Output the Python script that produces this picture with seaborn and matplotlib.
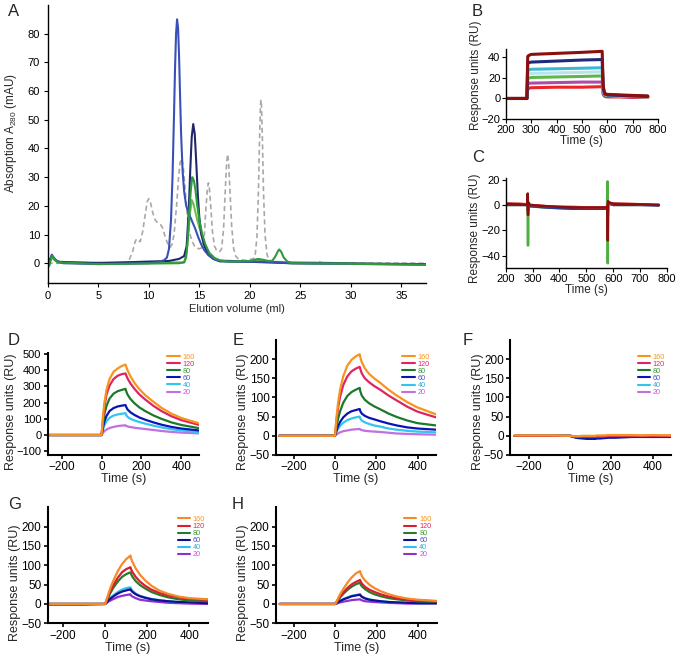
import seaborn as sns
import matplotlib.pyplot as plt
from matplotlib.lines import Line2D
import pandas as pd

# ---------------- panel A: gel filtration (ml, mAU) ----------------
std_ml = [0, 7.8, 8.1, 8.4, 8.65, 8.8, 8.95, 9.15, 9.4, 9.65, 9.85, 10.0, 10.15, 10.4, 10.65,
          10.9, 11.15, 11.35, 11.6, 11.85, 12.1, 12.3, 12.5, 12.75, 12.95, 13.1, 13.25, 13.4,
          13.6, 13.8, 14.0, 14.3, 14.6, 15.0, 15.3, 15.5, 15.65, 15.8, 15.9, 16.0, 16.15, 16.3,
          16.5, 16.7, 16.9, 17.05, 17.2, 17.4, 17.55, 17.7, 17.8, 17.9, 18.05, 18.2, 18.4, 18.6,
          18.85, 19.5, 20.3, 20.5, 20.7, 20.85, 20.95, 21.05, 21.1, 21.15, 21.25, 21.35, 21.5,
          21.7, 21.9, 22.3, 24.0, 26.4, 26.8, 27.2, 37.4]
std_mau = [0, 0, 1.5, 4, 7.5, 8.5, 8, 7.5, 11, 17, 21.5, 22.5, 21.5, 17.5, 15,
           14, 13.5, 12.5, 9.5, 7, 5.5, 6.5, 10, 20, 30, 35, 36.5, 34,
           26, 17, 11, 7.5, 5.5, 5, 5.5, 10, 19, 26, 28, 26, 19, 11,
           6, 4.5, 4, 4.2, 5, 12, 24, 35, 38, 35, 24, 13, 5, 2.5,
           1.5, 1, 1.5, 2, 9, 25, 42, 55, 57, 55, 42, 25, 10,
           3, 1, 0.5, 0, 0.2, 0.6, 0.1, 0]

blue_ml = [0, 0.15, 0.4, 0.8, 1.5, 5, 10, 11.0, 11.5, 11.8, 12.0, 12.2, 12.35, 12.5, 12.6, 12.7,
           12.8, 12.9, 13.0, 13.1, 13.2, 13.35, 13.5, 13.7, 14.0, 14.3, 14.6, 14.9, 15.2, 15.5,
           15.9, 16.4, 17.0, 20, 22, 24, 37.4]
blue_mau = [0, -0.5, 3, 1, 0, -0.3, 0, 0.5, 1, 2, 5, 15, 30, 52, 68, 80,
            85, 82, 72, 58, 45, 32, 25, 20, 17, 14.5, 12, 9, 6.5, 4.5,
            2.8, 1.5, 0.7, 0.5, 0.5, 0, -0.5]

navy_ml = [0, 0.4, 1, 5, 12, 13.0, 13.5, 13.75, 13.95, 14.1, 14.25, 14.4, 14.55, 14.7, 14.85,
           15.0, 15.2, 15.5, 15.9, 16.4, 17.0, 20, 24, 37.4]
navy_mau = [0, 2.5, 0.5, 0, 0.8, 1.5, 2.5, 6, 18, 32, 44, 48.5, 45, 35, 24,
            16, 10, 6, 3, 1.5, 0.7, 0.5, 0, -0.3]

green_ml = [0, 0.15, 0.4, 1, 5, 13, 13.5, 13.7, 13.85, 14.0, 14.15, 14.3, 14.45, 14.6, 14.8,
            15.0, 15.3, 15.6, 16.0, 16.5, 17, 18, 20, 20.5, 20.8, 21.3, 21.8, 22.2, 22.5, 22.75,
            22.9, 23.1, 23.35, 23.7, 24.2, 37.4]
green_mau = [-0.5, -1, 2.5, 0.3, -0.3, 0, 0.3, 2, 8, 17, 25, 30, 29, 26, 20,
             15, 10, 6.5, 3.5, 1.8, 1, 0.5, 0.8, 1.2, 1.5, 1.2, 0.8, 0.8, 2.2, 4,
             4.8, 4, 2, 0.6, 0, -0.5]

lgreen_ml = [0, 0.4, 1, 13.5, 13.75, 13.95, 14.1, 14.25, 14.4, 14.6, 14.8, 15.0, 15.3, 15.6,
             16.0, 16.5, 17, 20, 20.8, 22, 37.4]
lgreen_mau = [0, 2, 0.2, 0.3, 4, 12, 18, 22, 21, 18, 15, 12.5, 9, 6,
              3.5, 1.8, 1, 0.5, 1.2, 0.5, -0.5]

# ---------------- panel B / C: control sensorgrams ----------------
tB = [200, 283, 286, 290, 300, 400, 500, 580, 584, 590, 600, 650, 700, 760]
B_traces = {
    "red": [0, 0, 9, 10, 10.5, 11, 11, 11.5, 4, 2, 1.5, 1.5, 1, 1],
    "magenta": [0, 0, 14, 15, 15, 15.5, 16, 16, 5, 3, 2.5, 2, 1.5, 1.5],
    "green": [0, 0, 19, 20, 20.5, 21, 21.5, 22, 6, 3.5, 3, 2.5, 2, 1.5],
    "light": [0, 0, 23, 24, 24.5, 25, 25.5, 26, 7, 4, 3, 2.5, 2, 1.5],
    "cyan": [0, 0, 27, 28, 28.5, 29, 29.5, 30, 8, 4, 3, 2.5, 2, 2],
    "navy": [0, 0, 34, 35, 35.5, 36.5, 37.5, 38, 10, 4.5, 3.5, 3, 2.5, 2],
    "darkred": [0, 0, 41, 42, 43, 44, 45, 46, 12, 5, 4, 3.5, 3, 2.5],
}
B_colors = {"red": "#e8262a", "magenta": "#b04aa8", "green": "#5cb848", "light": "#b8e4f0",
            "cyan": "#3bb8d0", "navy": "#1f2b7a", "darkred": "#8b0f0f"}

tC = [200, 250, 280, 282, 283, 284, 290, 350, 400, 450, 500, 550, 577, 579, 580, 581, 585,
      600, 650, 700, 770]
C_traces = {
    "green": [0, 0, 0, -2, -32, 0, -1, -2, -2.5, -3, -3, -3, -3, 18.5, -46, 2, 1, 0, 0, 0, 0],
    "navy": [0, 0, 0, 3, -5, 0, -1, -2, -2.5, -3, -3, -3, -3, 0, -10, 1, 1, 0, 0, 0, -0.5],
    "red": [1, 1, 0.5, 4, -4, 1, 0, -1, -1.5, -1.5, -2, -2, -2, 0, -8, 2, 1.5, 1, 1, 0.5, 0],
    "darkred": [1, 0.5, 0, 9, -8, 2, 0, -1, -1.5, -2, -2, -2, -2, -1, -28, 3, 2, 1, 0.5, 0.5, 0],
}
C_colors = {"green": "#4cb040", "navy": "#2a3a90", "red": "#e04040", "darkred": "#8b0f0f"}

# ---------------- panels D-H: concentration series ----------------
conc = ["160", "120", "80", "60", "40", "20"]
t_kin = [-270, -100, 0, 3, 8, 15, 25, 40, 60, 80, 100, 120, 123, 130, 145, 165, 190, 220, 260,
         300, 350, 400, 490]

D_ru = {
    "160": [0, 0, 0, 45, 125, 205, 280, 345, 390, 410, 425, 435, 425, 400, 362, 322, 282, 245, 205, 168, 132, 105, 72],
    "120": [0, 0, 0, 40, 110, 180, 250, 305, 345, 365, 375, 380, 370, 350, 318, 285, 250, 218, 180, 148, 116, 92, 62],
    "80": [0, 0, 0, 28, 80, 133, 180, 225, 255, 270, 278, 285, 272, 250, 222, 196, 170, 147, 121, 100, 78, 62, 42],
    "60": [0, 0, 0, 18, 52, 87, 118, 148, 166, 176, 181, 185, 175, 158, 140, 124, 108, 94, 78, 64, 50, 40, 28],
    "40": [0, 0, 0, 13, 38, 63, 86, 106, 120, 127, 131, 135, 125, 112, 100, 90, 80, 70, 58, 47, 36, 28, 18],
    "20": [0, 0, 0, 5, 15, 25, 34, 43, 50, 55, 58, 60, 57, 53, 49, 45, 41, 37, 31, 25, 19, 15, 10],
}
E_ru = {
    "160": [0, 0, 0, 18, 50, 85, 120, 155, 183, 198, 207, 213, 205, 192, 176, 162, 150, 138, 120, 105, 88, 74, 56],
    "120": [0, 0, 0, 15, 42, 72, 102, 132, 155, 168, 175, 180, 174, 163, 150, 140, 130, 120, 105, 92, 76, 63, 48],
    "80": [0, 0, 0, 9, 25, 44, 64, 86, 104, 114, 120, 125, 116, 105, 94, 85, 77, 69, 58, 49, 40, 33, 27],
    "60": [0, 0, 0, 5, 14, 25, 36, 48, 58, 64, 67, 70, 64, 58, 52, 47, 43, 38, 32, 27, 22, 19, 16],
    "40": [0, 0, 0, 4, 10, 18, 26, 34, 41, 45, 48, 50, 45, 40, 35, 31, 27, 24, 19, 16, 13, 11, 9],
    "20": [0, 0, 0, 1, 4, 6, 9, 12, 14, 16, 17, 18, 16, 15, 13, 12, 11, 10, 8, 6, 5, 4, 3],
}
F_ru = {
    "160": [1, 1, 0, 0, 0, -1, -1, -1, 0, 0, 0, 0, 0, 1, 1, 1, 2, 2, 2, 2, 1, 2, 1],
    "120": [0, 0, 0, -1, -1, -2, -2, -2, -2, -2, -2, -2, -2, -1, -1, -1, 0, 0, 0, 0, 0, 0, 0],
    "80": [0, 0, 0, -1, -1, -2, -3, -3, -3, -3, -3, -3, -3, -2, -2, -2, -1, -1, -1, -1, -1, -1, -1],
    "60": [0, 0, 0, -1, -2, -3, -5, -6, -7, -8, -8, -8, -8, -7, -7, -6, -5, -5, -4, -3, -3, -3, -3],
    "40": [0, 0, 0, -1, -1, -2, -3, -3, -3, -3, -3, -3, -3, -2, -2, -2, -1, -1, -1, -1, -1, -1, -1],
    "20": [0, 0, 0, 0, 0, -1, -1, -1, -1, -1, -1, -1, -1, -1, -1, -1, 0, 0, 0, 0, 0, 0, 0],
}
G_ru = {
    "160": [0, 0, 0, 5, 14, 26, 42, 62, 85, 103, 116, 125, 118, 108, 92, 76, 61, 47, 34, 26, 19, 15, 12],
    "120": [0, 0, 0, 4, 11, 21, 34, 50, 68, 82, 90, 95, 90, 82, 70, 58, 47, 37, 28, 22, 17, 13, 11],
    "80": [0, 0, 0, 4, 10, 18, 29, 43, 58, 70, 77, 82, 77, 70, 59, 49, 40, 31, 23, 17, 12, 9, 7],
    "60": [0, 0, 0, 2, 5, 9, 14, 20, 27, 32, 35, 38, 35, 31, 25, 20, 16, 12, 9, 7, 5, 4, 2],
    "40": [0, 0, 0, 2, 6, 11, 16, 23, 31, 37, 41, 43, 39, 34, 27, 21, 17, 13, 10, 7, 5, 4, 3],
    "20": [-2, -2, 0, 1, 3, 6, 9, 13, 18, 21, 23, 25, 22, 19, 15, 11, 9, 7, 5, 3, 2, 1, 0],
}
H_ru = {
    "160": [0, 0, 0, 3, 9, 17, 27, 40, 56, 69, 79, 85, 79, 71, 60, 50, 41, 33, 25, 19, 14, 11, 8],
    "120": [0, 0, 0, 3, 7, 13, 21, 31, 42, 51, 57, 62, 58, 52, 44, 37, 31, 25, 19, 15, 11, 9, 7],
    "80": [0, 0, 0, 2, 6, 11, 18, 27, 37, 45, 51, 55, 50, 45, 38, 31, 25, 20, 15, 12, 9, 7, 6],
    "60": [0, 0, 0, 1, 3, 5, 8, 12, 16, 20, 22, 24, 21, 18, 14, 11, 9, 7, 5, 4, 3, 2, 2],
    "40": [0, 0, 0, 1, 3, 6, 9, 13, 17, 21, 23, 25, 22, 19, 15, 12, 9, 7, 5, 4, 3, 2, 2],
    "20": [0, 0, 0, 0, 1, 3, 4, 6, 8, 10, 11, 12, 11, 9, 7, 6, 5, 4, 3, 2, 1, 1, 1],
}

pal_DE = {"160": "#f7941d", "120": "#e0245e", "80": "#1a7a2a", "60": "#0a14b4",
          "40": "#33c4f0", "20": "#c070e0"}
pal_GH = {"160": "#f58a2a", "120": "#d81e2c", "80": "#2a7a2a", "60": "#101090",
          "40": "#30c0f0", "20": "#9030d0"}
legend_text = {"160": "#f7941d", "120": "#e0245e", "80": "#3a9a3a", "60": "#5050d0",
               "40": "#30b0e0", "20": "#d050e0"}

sns.set_style("ticks")
plt.rcParams['font.family'] = ['Liberation Sans', 'DejaVu Sans']
plt.rcParams['mathtext.fontset'] = 'custom'
plt.rcParams['mathtext.rm'] = 'Liberation Sans'
plt.rcParams['mathtext.it'] = 'Liberation Sans:italic'
plt.rcParams['xtick.direction'] = 'out'
plt.rcParams['ytick.direction'] = 'out'

fig = plt.figure(figsize=(6.8, 6.57), dpi=100)


def style_axes(ax, lw, tsize, pad=1.5):
    sns.despine(ax=ax)
    for s in ("left", "bottom"):
        ax.spines[s].set_linewidth(lw)
        ax.spines[s].set_color("black")
    ax.tick_params(length=3, width=lw * 0.8, labelsize=tsize, colors="black", pad=pad)


# ---- A ----
axA = fig.add_axes([0.0701, 0.5688, 0.556, 0.4236])
sns.lineplot(x=std_ml, y=std_mau, color="#a8a8a8", linestyle=(0, (3, 2)), linewidth=1.2,
             estimator=None, sort=False, ax=axA)
sns.lineplot(x=lgreen_ml, y=lgreen_mau, color="#6cc04a", linewidth=1.5, estimator=None, sort=False, ax=axA)
sns.lineplot(x=navy_ml, y=navy_mau, color="#20286a", linewidth=1.5, estimator=None, sort=False, ax=axA)
sns.lineplot(x=blue_ml, y=blue_mau, color="#3a50b8", linewidth=1.5, estimator=None, sort=False, ax=axA)
sns.lineplot(x=green_ml, y=green_mau, color="#2e9a3c", linewidth=1.5, estimator=None, sort=False, ax=axA)
axA.set_xlim(0, 37.4)
axA.set_ylim(-7, 90)
axA.set_xticks(range(0, 36, 5))
axA.set_yticks(range(0, 81, 10))
style_axes(axA, 1.0, 8, pad=2.5)
axA.set_xlabel("Elution volume (ml)", fontsize=8, labelpad=2)
axA.set_ylabel(r"Absorption A$_{280}$ (mAU)", fontsize=8.5)
axA.yaxis.set_label_coords(-0.076, 0.54)

# ---- B ----
axB = fig.add_axes([0.744, 0.8189, 0.2235, 0.1061])
dfB = pd.DataFrame([(k, t, v) for k, vals in B_traces.items() for t, v in zip(tB, vals)],
                   columns=["trace", "time", "ru"])
sns.lineplot(data=dfB, x="time", y="ru", hue="trace", hue_order=list(B_traces), palette=B_colors,
             estimator=None, sort=False, linewidth=2.2, legend=False, ax=axB)
axB.set_xlim(200, 800)
axB.set_ylim(-20, 48)
axB.set_xticks(range(200, 801, 100))
axB.set_yticks([-20, 0, 20, 40])
style_axes(axB, 1.0, 8, pad=1)
axB.set_xlabel("Time (s)", fontsize=8.5, labelpad=0)
axB.set_ylabel("Response units (RU)", fontsize=8.5)
axB.yaxis.set_label_coords(-0.16, 0.63)

# ---- C ----
axC = fig.add_axes([0.7437, 0.5916, 0.237, 0.137])
dfC = pd.DataFrame([(k, t, v) for k, vals in C_traces.items() for t, v in zip(tC, vals)],
                   columns=["trace", "time", "ru"])
sns.lineplot(data=dfC, x="time", y="ru", hue="trace", hue_order=list(C_traces), palette=C_colors,
             estimator=None, sort=False, linewidth=1.8, legend=False, ax=axC)
axC.set_xlim(200, 800)
axC.set_ylim(-50, 21)
axC.set_xticks(range(200, 801, 100))
axC.set_yticks([-40, -20, 0, 20])
style_axes(axC, 1.0, 8, pad=1)
axC.set_xlabel("Time (s)", fontsize=8.5, labelpad=0)
axC.set_ylabel("Response units (RU)", fontsize=8.5)
axC.yaxis.set_label_coords(-0.151, 0.44)


def kinetics_panel(rect, data, pal, xlim, ylim, yticks, label_xy, legend_xy, tsize=8.5):
    ax = fig.add_axes(rect)
    draw_order = conc[::-1]
    df = pd.DataFrame([(c, t, v) for c in draw_order for t, v in zip(t_kin, data[c])],
                      columns=["conc", "time", "ru"])
    sns.lineplot(data=df, x="time", y="ru", hue="conc", hue_order=draw_order, palette=pal,
                 estimator=None, sort=False, linewidth=1.6, legend=False, ax=ax)
    ax.set_xlim(*xlim)
    ax.set_ylim(*ylim)
    ax.set_xticks([-200, 0, 200, 400])
    ax.set_yticks(yticks)
    style_axes(ax, 1.5, tsize)
    ax.tick_params(axis="x", labelsize=8.5)
    ax.set_xlabel("Time (s)", fontsize=9, labelpad=0)
    ax.set_ylabel("Response units (RU)", fontsize=9)
    ax.yaxis.set_label_coords(*label_xy)
    handles = [Line2D([], [], color=pal[c], lw=1.5) for c in conc]
    leg = ax.legend(handles, conc, loc="upper right", bbox_to_anchor=legend_xy, frameon=False,
                    fontsize=5.2, handlelength=1.7, handletextpad=0.4, labelspacing=0.0,
                    borderpad=0, borderaxespad=0)
    for txt, c in zip(leg.get_texts(), conc):
        txt.set_color(legend_text[c])
    return ax


kinetics_panel([0.0701, 0.3075, 0.223, 0.1557], D_ru, pal_DE, (-270, 490), (-123, 508),
               range(-100, 501, 100), (-0.205, 0.42), (0.97, 0.99), tsize=8)
kinetics_panel([0.4054, 0.3075, 0.2353, 0.175], E_ru, pal_DE, (-287, 488), (-50, 250),
               range(-50, 201, 50), (-0.165, 0.374), (0.964, 0.88))
kinetics_panel([0.7504, 0.3075, 0.2363, 0.175], F_ru, pal_DE, (-291, 489), (-50, 250),
               range(-50, 201, 50), (-0.165, 0.374), (0.963, 0.88))
kinetics_panel([0.0701, 0.0513, 0.236, 0.1766], G_ru, pal_GH, (-274, 490), (-50, 250),
               range(-50, 201, 50), (-0.168, 0.35), (0.98, 0.925))
kinetics_panel([0.4054, 0.0513, 0.2376, 0.1766], H_ru, pal_GH, (-290, 495), (-50, 250),
               range(-50, 201, 50), (-0.165, 0.35), (0.965, 0.925))

# panel letters
for letter, x, y in [("A", 8, 4), ("B", 472, 4), ("C", 472, 150), ("D", 8, 333),
                     ("E", 233, 333), ("F", 463, 333), ("G", 8, 497), ("H", 232, 497)]:
    fig.text(x / 680, 1 - y / 657, letter, fontsize=12, va="top", ha="left")

fig.savefig("out.png", dpi=100, facecolor="white")
